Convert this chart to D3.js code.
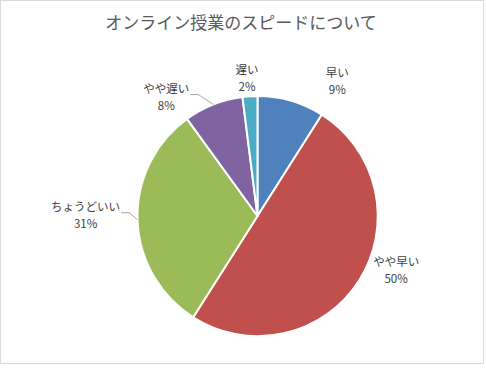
<!DOCTYPE html>
<html><head><meta charset="utf-8">
<script src="https://cdn.jsdelivr.net/npm/d3@7"></script>
<style>html,body{margin:0;padding:0;background:#fff;}svg{display:block;}</style>
</head><body>
<svg id="c" width="486" height="368"></svg>
<script>
const title = "オンライン授業のスピードについて";
const categories = ["早い", "やや早い", "ちょうどいい", "やや遅い", "遅い"];
const values = [9, 50, 31, 8, 2];
const colors = ["#4F81BD", "#C0504D", "#9BBB59", "#8064A2", "#4BACC6"];
// label layout nudges (pixels) relative to the outer label ring
const nudges = [[38, 9], [12, -26], [-22, -6], [-36, 20], [-1, 12]];
const leaders = [false, false, true, true, false];

const svg = d3.select("#c");
const W = 486, H = 368;
svg.append("rect").attr("x", 0.5).attr("y", 0.5).attr("width", 483).attr("height", 363)
  .attr("fill", "#fff").attr("stroke", "#d9d9d9").attr("stroke-width", 1);

svg.append("text").attr("x", 241).attr("y", 29).attr("text-anchor", "middle")
  .attr("font-family", "'Noto Sans CJK JP', sans-serif").attr("font-size", 17)
  .attr("fill", "#595959").text(title);

const cx = 257.5, cy = 216, R = 120, RL = 150;
const data = categories.map((c, i) => ({cat: c, val: values[i], color: colors[i], i}));
const pie = d3.pie().value(d => d.val).sort(null);
const arcs = pie(data);
const arc = d3.arc().innerRadius(0).outerRadius(R);
const g = svg.append("g").attr("transform", `translate(${cx},${cy})`);
g.selectAll("path").data(arcs).enter().append("path")
  .attr("d", arc).attr("fill", d => d.data.color)
  .attr("stroke", "#fff").attr("stroke-width", 2).attr("stroke-linejoin", "round");

const total = d3.sum(values);
arcs.forEach(a => {
  const mid = (a.startAngle + a.endAngle) / 2;
  const n = nudges[a.data.i];
  const lx = RL * Math.sin(mid) + n[0];
  const ly = -RL * Math.cos(mid) + n[1];
  const t = g.append("text").attr("text-anchor", "middle")
    .attr("font-family", "'Noto Sans CJK JP', sans-serif").attr("font-size", 11.5)
    .attr("fill", "#404040");
  t.append("tspan").attr("x", lx).attr("y", ly - 4).text(a.data.cat);
  t.append("tspan").attr("x", lx).attr("y", ly + 13)
    .text(Math.round(a.data.val / total * 100) + "%");
  if (leaders[a.data.i]) {
    const bb = t.node().getBBox();
    const tw = t.select("tspan").node().getComputedTextLength();
    const x0 = lx + tw / 2 + 1;
    const y0 = ly - 2;
    const ex = R * Math.sin(mid), ey = -R * Math.cos(mid);
    g.append("polyline")
      .attr("points", [[x0, y0], [x0 + 8, y0], [ex, ey]].map(p => p.join(",")).join(" "))
      .attr("fill", "none").attr("stroke", "#a6a6a6").attr("stroke-width", 1);
  }
});
</script>
</body></html>
